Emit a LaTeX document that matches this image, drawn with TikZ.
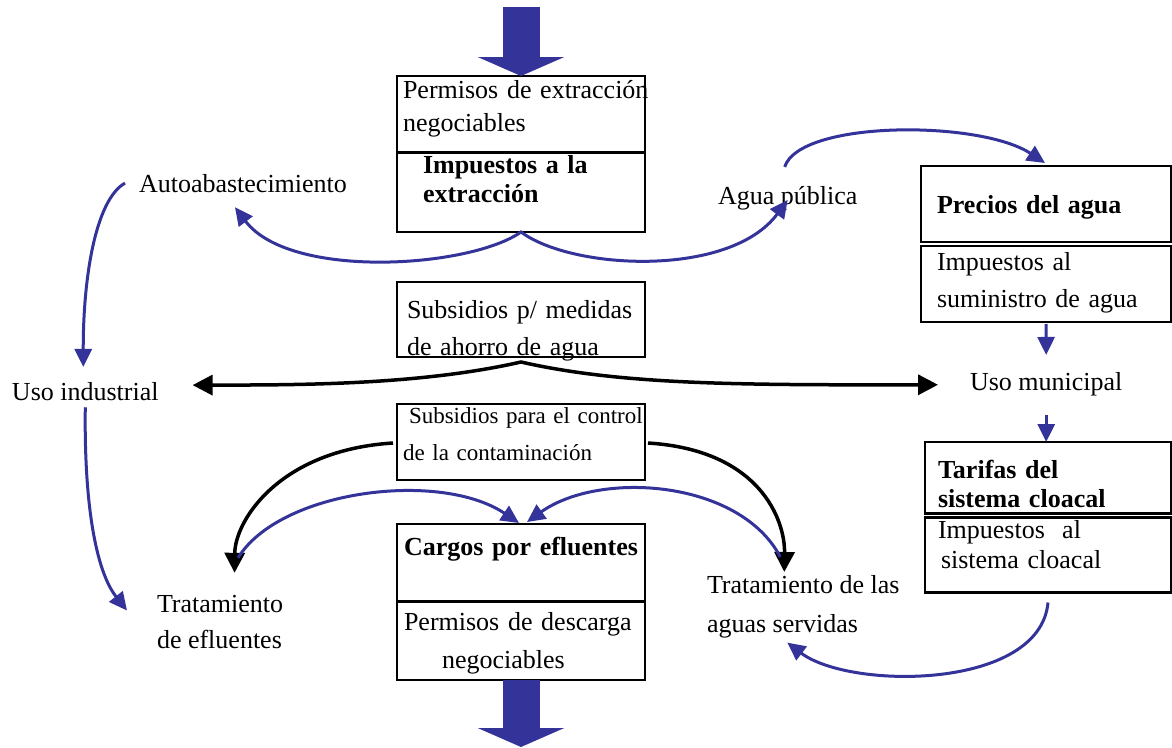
\documentclass[tikz,border=0pt]{standalone}
\usepackage{fontspec}
\setmainfont{Liberation Serif}
\usepackage{tikz}
\usetikzlibrary{arrows.meta}
\definecolor{azul}{RGB}{51,51,153}

\begin{document}
\begin{tikzpicture}[x=1pt,y=-1pt,
	puntaA/.tip={Triangle[length=18pt,width=17pt]},
	puntaN/.tip={Triangle[length=20pt,width=20pt]},
	caja/.style={draw,line width=2.5pt,anchor=north west,align=left,outer sep=0pt,inner ysep=0pt,inner xsep=6pt,text width=236pt,font=\fontsize{26}{33}\selectfont},
	rotulo/.style={anchor=base west,align=left,inner sep=0pt,outer sep=0pt,font=\fontsize{26}{36}\selectfont},
	flujo/.style={draw=azul,line width=3pt},
	fuerza/.style={draw,line width=3.5pt},
	grueso/.style={draw=azul,line width=37pt,-{Triangle[length=19pt,width=86pt]}}]
	\useasboundingbox (0,0) rectangle (1172,747);
	\draw (397,76) node(perm) [caja,text height=22pt,text depth=54pt] {\mbox{Permisos de extracción}\\negociables};
	\draw (397,153) node(impext) [caja,text height=20pt,text depth=59pt,font=\fontsize{26}{29}\selectfont\bfseries] {\hspace*{20pt}Impuestos a la\\\hspace*{20pt}extracción};
	\draw (397,282) node(ahorro) [caja,inner xsep=10pt,text width=228pt,text height=36pt,text depth=39pt,font=\fontsize{26}{37}\selectfont] {Subsidios p/ medidas\\de ahorro de agua};
	\draw (397,404) node(contam) [caja,text height=19pt,text depth=57pt,font=\fontsize{23}{37}\selectfont] {\hspace*{6pt}\mbox{Subsidios para el control}\\\mbox{de la contaminación}};
	\draw (397,524) node(cargos) [caja,inner xsep=7pt,text width=234pt,text height=31pt,text depth=46pt,font=\fontsize{26}{33}\selectfont\bfseries] {\mbox{Cargos por efluentes}};
	\draw (397,602) node(descarga) [caja,inner xsep=7pt,text width=234pt,text height=28pt,text depth=50pt,font=\fontsize{26}{38}\selectfont] {\mbox{Permisos de descarga}\\\hspace*{38pt}negociables};
	\draw (921,166) node(precios) [caja,inner xsep=16pt,text width=218pt,text height=47pt,text depth=29pt,font=\fontsize{26}{33}\selectfont\bfseries] {Precios del agua};
	\draw (921,246) node(sumin) [caja,inner xsep=16pt,text width=218pt,text height=24pt,text depth=52pt,font=\fontsize{26}{37}\selectfont] {Impuestos al\\suministro de agua};
	\draw (925,442) node(tarifas) [caja,inner xsep=13pt,text width=220pt,text height=36pt,text depth=35.5pt,font=\fontsize{26}{29}\selectfont\bfseries] {Tarifas del\\sistema cloacal};
	\draw (925,517.5) node(cloacal) [caja,inner xsep=13pt,text width=220pt,text height=20.5pt,text depth=54.5pt,font=\fontsize{26}{30}\selectfont] {Impuestos~ al\\\hspace*{3pt}sistema cloacal};
	\draw (139,192) node(auto) [rotulo] {Autoabastecimiento};
	\draw (718,204) node(agua) [rotulo] {Agua pública};
	\draw (12,400) node(uind) [rotulo] {Uso industrial};
	\draw (970,390) node(umun) [rotulo] {Uso municipal};
	\draw (157,648) node(tefl) [rotulo] {Tratamiento\\de efluentes};
	\draw (707,632) node(tserv) [rotulo,font=\fontsize{26}{39}\selectfont] {Tratamiento de las\\aguas servidas};
	\coordinate (fuente) at (521,7);
	\coordinate (vertido) at (521,747);
	\path[grueso] (fuente) -- (perm.north);
	\path[grueso] (descarga.south) -- (vertido);
	\path[flujo,puntaA-puntaA] ([shift={(-8,15)}]auto.south) .. controls (290,280) and (470,268) .. (impext.south) .. controls (572,270) and (730,278) .. ([shift={(0,14)}]agua.north);
	\path[flujo,-puntaA] ([shift={(-3,-19)}]agua.north) .. controls (800,120) and (980,120) .. ([shift={(-1,-3)}]precios.north);
	\path[flujo,-puntaA] ([shift={(0,2)}]sumin.south) -- ([shift={(0,-17)}]umun.north);
	\path[flujo,-puntaA] ([shift={(0,19)}]umun.south) -- (tarifas.north -| umun.south);
	\path[flujo,-puntaA] ([shift={(0,10)}]cloacal.south) .. controls (1040,690) and (850,690) .. ([shift={(-16,5)}]tserv.south);
	\path[flujo,-puntaA] ([shift={(-14,0)}]auto.west) .. controls (95,200) and (83,280) .. ([shift={(-2,-15)}]uind.north);
	\path[flujo,-puntaA] ([shift={(0,7)}]uind.south) .. controls (84,500) and (95,570) .. ([shift={(-30,-11)}]tefl.west);
	\path[fuerza,-puntaN] ([shift={(-4,1)}]contam.west) .. controls (280,450) and (235,520) .. ([shift={(14.5,-22)}]tefl.north);
	\path[fuerza,-puntaN] ([shift={(3,1)}]contam.east) .. controls (760,450) and (785,520) .. ([shift={(-19,-3)}]tserv.north);
	\path[flujo,-puntaA] ([shift={(18,-37)}]tefl.north) .. controls (280,490) and (440,470) .. ([shift={(-2,-1)}]cargos.north);
	\path[flujo,-puntaA] ([shift={(-23,-18)}]tserv.north) .. controls (740,480) and (600,470) .. ([shift={(6,-2)}]cargos.north);
	\path[fuerza,puntaN-puntaN] ([shift={(34,-6)}]uind.east) .. controls (300,385) and (420,385) .. ([shift={(0,5)}]ahorro.south) .. controls (622,385) and (740,385) .. ([shift={(-32,1)}]umun.west);
\end{tikzpicture}
\end{document}
